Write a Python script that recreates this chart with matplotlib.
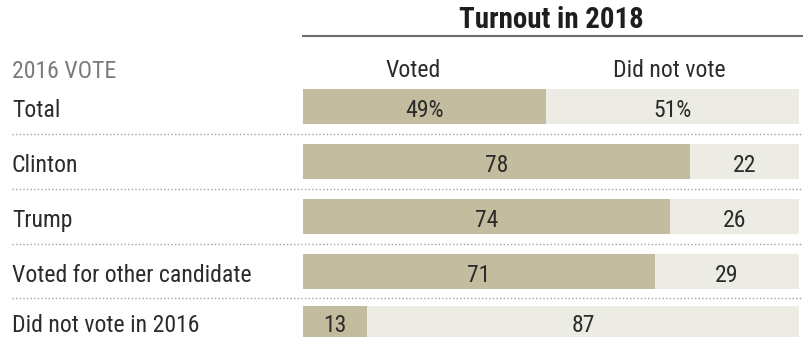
import matplotlib
matplotlib.use("Agg")
import matplotlib.pyplot as plt
from matplotlib import font_manager as fm
from matplotlib.lines import Line2D

categories = ["Total", "Clinton", "Trump", "Voted for other candidate", "Did not vote in 2016"]
voted = [49, 78, 74, 71, 13]
did_not_vote = [51, 22, 26, 29, 87]
value_labels_voted = ["49%", "78", "74", "71", "13"]
value_labels_not = ["51%", "22", "26", "29", "87"]
col_headers = ["Voted", "Did not vote"]
title = "Turnout in 2018"
row_header = "2016 VOTE"

names = {f.name for f in fm.fontManager.ttflist}
fam = "DejaVu Sans"
for cand in ["Roboto Condensed", "Open Sans Condensed", "Liberation Sans Narrow",
             "DejaVu Sans Condensed", "Liberation Sans", "Roboto"]:
    if cand in names:
        fam = cand
        break
plt.rcParams["font.family"] = [fam, "DejaVu Sans"]

C_VOTED = "#C4BC9E"
C_NOT = "#EDECE4"
TXT = "#2b2b2b"
WT = "normal"

W, H = 804, 337
fig = plt.figure(figsize=(W / 100, H / 100), dpi=100)
renderer = fig.canvas.get_renderer()


def fit_size(s, target_px, weight="normal", base=15):
    t = fig.text(0, 0, s, fontsize=base, fontweight=weight)
    w = t.get_window_extent(renderer).width
    t.remove()
    return base * target_px / w


fs = fit_size("Voted for other candidate", 240, weight=WT)
fs_title = fit_size(title, 184, weight="bold")

# layout (pixels from top)
row_top = [89, 144, 199, 254, 306]
bar_h = 35

# bar axes: x from 303 px to 799 px, full height; y in pixels from top
ax = fig.add_axes([303 / W, 0, 496 / W, 1])
ax.set_xlim(0, 100)
ax.set_ylim(H, 0)
ax.axis("off")

centers = [t + bar_h / 2 for t in row_top]
ax.barh(centers, voted, height=bar_h, color=C_VOTED, linewidth=0)
ax.barh(centers, did_not_vote, left=voted, height=bar_h, color=C_NOT, linewidth=0)

# text baseline: centre of visible part of bar + offset
baselines = [(t + min(t + bar_h, H)) / 2 + 10.7 for t in row_top]
for b, v, n, lv, ln in zip(baselines, voted, did_not_vote, value_labels_voted, value_labels_not):
    ax.text(v / 2, b, lv, ha="center", va="baseline", fontsize=fs, color=TXT, fontweight=WT)
    ax.text(v + n / 2, b, ln, ha="center", va="baseline", fontsize=fs, color=TXT, fontweight=WT)

for b, c in zip(baselines, categories):
    fig.text(12 / W, 1 - b / H, c, ha="left", va="baseline", fontsize=fs, color=TXT, fontweight=WT)

# dotted separators between rows
for t0, t1 in zip(row_top[:-1], row_top[1:]):
    py = (t0 + bar_h + t1) / 2
    fig.add_artist(Line2D([12 / W, 1], [1 - py / H] * 2, transform=fig.transFigure,
                          color="#a0a0a0", linestyle=(0, (1, 1.6)), linewidth=1))

# headers
fig.text(12 / W, 1 - 78 / H, row_header, ha="left", va="baseline", fontsize=fs,
         color="#7a7a7a", fontweight=WT)
ax.text(22.2, 77, col_headers[0], ha="center", va="baseline", fontsize=fs,
        color=TXT, fontweight=WT)
ax.text(73.8, 77, col_headers[1], ha="center", va="baseline", fontsize=fs,
        color=TXT, fontweight=WT)
fig.text(551 / W, 1 - 28 / H, title, ha="center", va="baseline", fontsize=fs_title,
         fontweight="bold", color="#1e1e1e")
fig.add_artist(Line2D([303 / W, 1], [1 - 35.5 / H] * 2, transform=fig.transFigure,
                      color="#6e6e6e", linewidth=1.5))

fig.savefig("out.png", dpi=100)
